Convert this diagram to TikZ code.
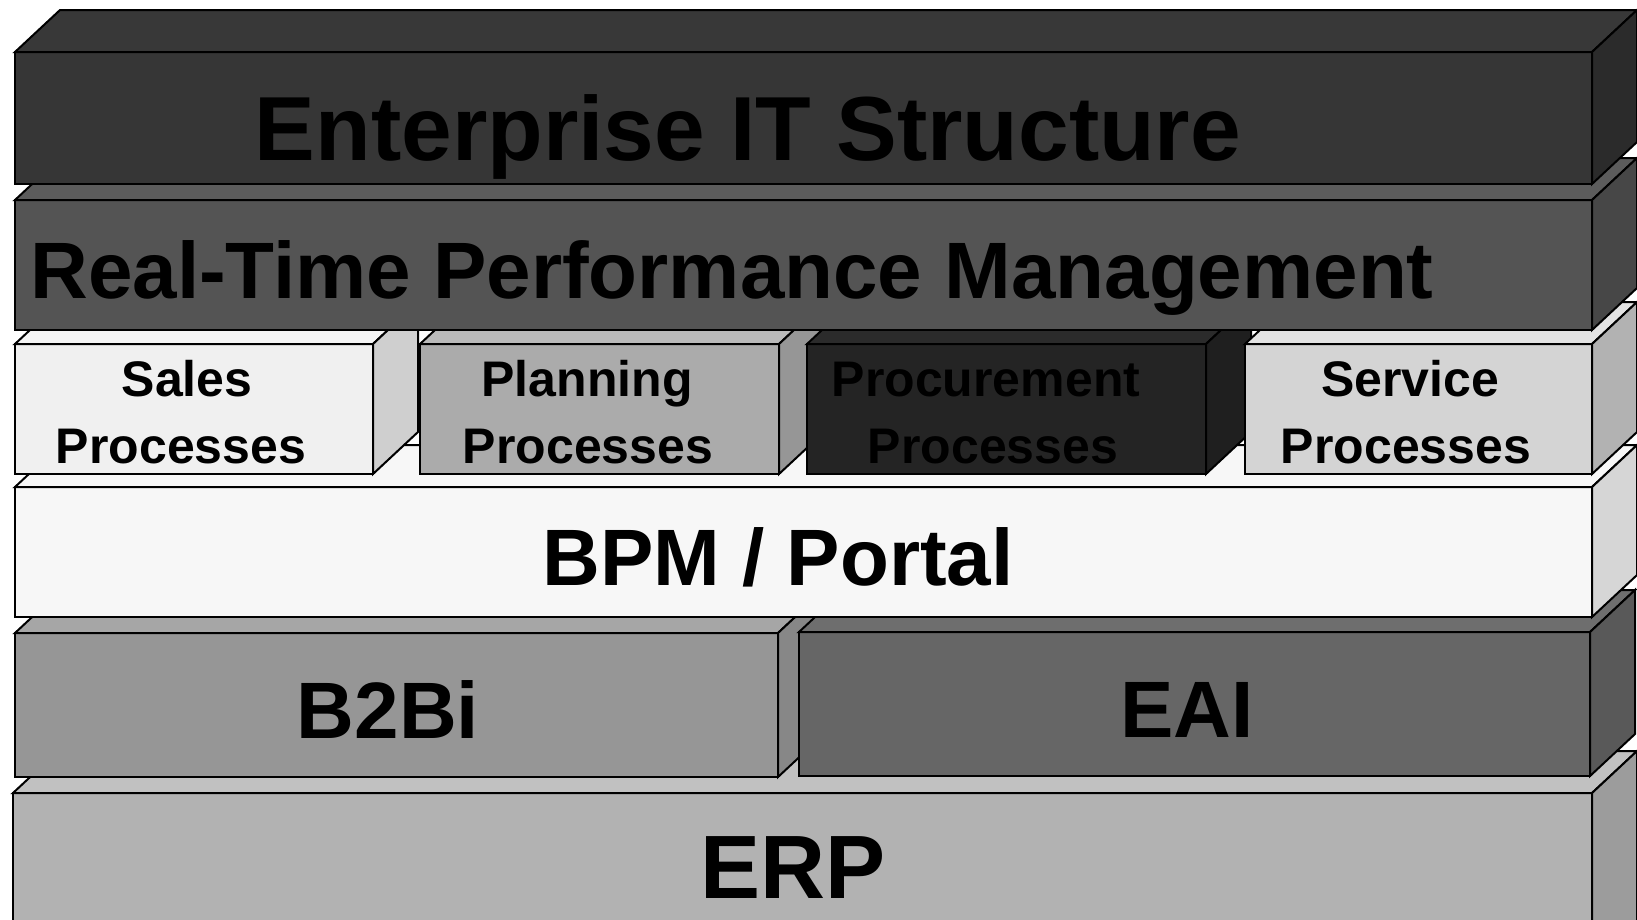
\documentclass[tikz,border=0pt]{standalone}
\usepackage{fontspec}
\setmainfont{Liberation Sans}
\begin{document}
\begin{tikzpicture}[x=1pt,y=-1pt,
  face/.style={draw=black, line width=2pt, rectangle, inner sep=0pt, outer sep=0pt, anchor=north west},
  lbl/.style={inner sep=0pt, anchor=base, text=black, font=\bfseries},
  huge/.style={lbl, font=\fontsize{90}{90}\selectfont\bfseries},
  big/.style={lbl, font=\fontsize{80}{80}\selectfont\bfseries},
  proc/.style={lbl, font=\fontsize{50}{50}\selectfont\bfseries}]
\newcommand\layerbox[8]{%
  \node[face, fill=#6, minimum width={(#4-#2)*1pt}, minimum height={(#5-#3)*1pt}] (#1) at (#2,#3) {};
  \filldraw[draw=black, line width=2pt, fill=#7] (#1.north west) -- ([shift={(45,-42)}]#1.north west) -- ([shift={(45,-42)}]#1.north east) -- (#1.north east) -- cycle;
  \filldraw[draw=black, line width=2pt, fill=#8] (#1.north east) -- ([shift={(45,-42)}]#1.north east) -- ([shift={(45,-42)}]#1.south east) -- (#1.south east) -- cycle;
}
\clip (0,0) rectangle (1637,919);
\fill[white] (0,0) rectangle (1637,919);
% ERP
\layerbox{erp}{13}{793}{1592}{980}{black!30}{black!24.5}{black!39}
\node[huge] (erpt) at (793,898) {ERP};
% B2Bi and EAI
\layerbox{b2bi}{15}{633}{778}{777}{black!41}{black!35}{black!47}
\node[big] (b2bit) at (388,738) {B2Bi};
\layerbox{eai}{799}{632}{1590}{776}{black!60}{black!57}{black!65}
\node[big] (eait) at (1187,737) {EAI};
% BPM
\layerbox{bpm}{15}{487}{1592}{617}{black!3}{black!3}{black!16}
\node[big] (bpmt) at (778,585) {BPM / Portal};
% Processes
\layerbox{sales}{15}{344}{373}{474}{black!6}{black!4}{black!19}
\node[proc] (sales1) at (187,396) {Sales};
\node[proc] (sales2) at (181,463) {Processes};
\layerbox{plan}{420}{344}{779}{474}{black!33}{black!27}{black!41}
\node[proc] (plan1) at (587,396) {Planning};
\node[proc] (plan2) at (588,463) {Processes};
\layerbox{procu}{807}{344}{1206}{474}{black!86}{black!83}{black!88}
\node[proc] (procu1) at (986,396) {Procurement};
\node[proc] (procu2) at (993,463) {Processes};
\layerbox{serv}{1245}{344}{1592}{474}{black!17}{black!11}{black!30}
\node[proc] (serv1) at (1410,396) {Service};
\node[proc] (serv2) at (1406,463) {Processes};
% RTPM
\layerbox{rtpm}{15}{200}{1592}{330}{black!67}{black!64}{black!72}
\node[lbl, font=\fontsize{80}{80}\selectfont\bfseries] (rtpmt) at (732,298) {Real-Time Performance Management};
% EIS
\layerbox{eis}{15}{52}{1592}{184}{black!79}{black!78}{black!83}
\node[lbl, font=\fontsize{91}{91}\selectfont\bfseries] (eist) at (748,160) {Enterprise IT Structure};
\end{tikzpicture}
\end{document}
